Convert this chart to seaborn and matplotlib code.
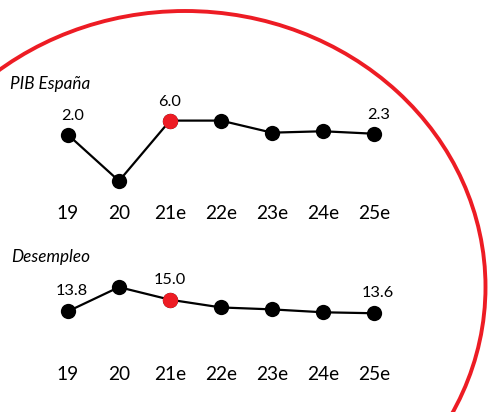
import matplotlib
matplotlib.use("Agg")
import matplotlib.pyplot as plt
from matplotlib.patches import Ellipse
import seaborn as sns
import numpy as np

# Years shown on the horizontal axis (e = estimate)
years = ["19", "20", "21e", "22e", "23e", "24e", "25e"]

# Spanish GDP growth (%) and unemployment rate (%)
pib = [2.0, -11.0, 6.0, 6.0, 2.6, 3.0, 2.3]
desempleo = [13.8, 16.3, 15.0, 14.2, 14.0, 13.7, 13.6]

# Highlighted year and years whose value is written above the point
highlight = 2
labelled = [0, 2, 6]

RED = "#ED1C24"
sns.set_theme(style="white")
plt.rcParams["font.family"] = ["Lato", "DejaVu Sans"]

W, H = 488, 412
fig = plt.figure(figsize=(W / 100, H / 100), dpi=100)


def rect(left, top, width, height):
    return [left / W, 1 - (top + height) / H, width / W, height / H]


def panel(ax, values, ylim, title, title_xy, label_dy, tick_pad):
    xs = np.arange(len(values))
    sns.lineplot(x=xs, y=values, ax=ax, color="black", linewidth=1.6,
                 marker="o", markersize=11, markeredgewidth=0)
    sns.scatterplot(x=[xs[highlight]], y=[values[highlight]], ax=ax,
                    color=RED, s=121, linewidth=0, zorder=5)
    for i in labelled:
        dx = 0 if i == highlight else 3
        ax.annotate(f"{values[i]:.1f}", (xs[i], values[i]),
                    xytext=(dx, label_dy), textcoords="offset points",
                    ha="center", va="baseline", fontsize=11.8, color="black")
    ax.set_xlim(-0.5, len(values) - 0.5)
    ax.set_ylim(*ylim)
    ax.set_xticks(xs, years)
    ax.set_yticks([])
    ax.tick_params(axis="x", length=0, pad=tick_pad, labelsize=13.8,
                   colors="black")
    ax.set_xlabel("")
    ax.set_ylabel("")
    for s in ax.spines.values():
        s.set_visible(False)
    ax.patch.set_alpha(0)
    fig.text(title_xy[0] / W, 1 - title_xy[1] / H, title, fontsize=12.3,
             fontstyle="italic", ha="left", va="baseline", color="black")


# GDP panel: 3.55 px per point, 2.0 sits at y = 134.8 px
ax1 = fig.add_axes(rect(42.5, 99.3, 357, 99.4))
panel(ax1, pib, (-16, 12), "PIB España", (10, 89), 10.5, 4.6)

# Unemployment panel: 9.67 px per point, 13.8 sits at y = 311.3 px
ax2 = fig.add_axes(rect(42.5, 270.7, 357, 82.2))
panel(ax2, desempleo, (9.5, 18), "Desempleo", (11, 261.7), 11.5, 9.6)

# Red ring framing the figure
ov = fig.add_axes([0, 0, 1, 1])
ov.set_xlim(0, W)
ov.set_ylim(H, 0)
ov.axis("off")
ov.patch.set_alpha(0)
ov.add_patch(Ellipse((185, 287), 601, 552, fill=False, edgecolor=RED,
                     linewidth=2.8))

fig.savefig("out.png", dpi=100)
